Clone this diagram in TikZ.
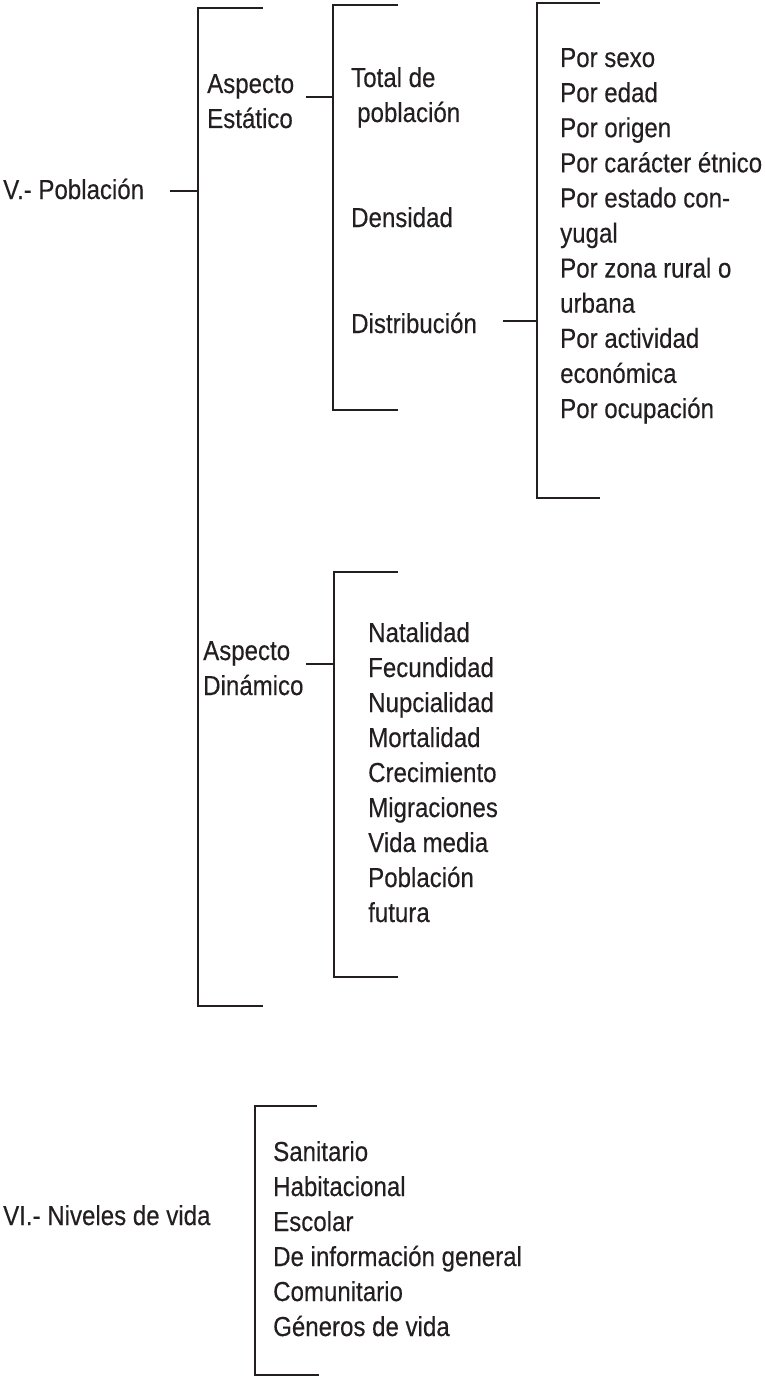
\documentclass[tikz,border=0pt]{standalone}
\usepackage{fontspec}
\setmainfont{Liberation Sans}[FakeStretch=0.875,FakeBold=0.3]
\definecolor{ink}{HTML}{231F20}
\begin{document}
\begin{tikzpicture}[x=1pt,y=-1pt,
  txt/.style={anchor=base west,inner sep=0pt,text=ink,font=\fontsize{27.5}{35}\selectfont},
  brk/.style={draw=ink,line width=2.4pt,line cap=rect},
  conn/.style={draw=ink,line width=2.4pt}]
\useasboundingbox (0,0) rectangle (764,1378);
% --- V. Poblacion
\node[txt] (pob) at (3,199) {V.- Población};
\coordinate (b1t) at (198,8);
\coordinate (b1b) at (198,1006);
\coordinate (b1m) at (198,191);
\draw[brk] (262,8) -- (b1t) -- (b1b) -- (262,1006);
\coordinate (pobE) at (170,191);
\draw[conn] (pobE) -- (b1m);
% --- Aspecto Estatico
\node[txt] (ae1) at (207,93) {Aspecto};
\node[txt] (ae2) at (207,128) {Estático};
\coordinate (aeE) at (306,97);
\coordinate (b2m) at (333,97);
\draw[brk] (397,5) -- (333,5) -- (333,410) -- (397,410);
\draw[conn] (aeE) -- (b2m);
\node[txt] (tot1) at (351,87) {Total de};
\node[txt] (tot2) at (357,122) {población};
\node[txt] (den) at (351,227) {Densidad};
\node[txt] (dis) at (351,333) {Distribución};
\coordinate (disE) at (503,321);
\coordinate (b3m) at (537,321);
\draw[conn] (disE) -- (b3m);
\draw[brk] (599,3) -- (537,3) -- (537,498) -- (599,498);
\foreach \t [count=\i] in {Por sexo,Por edad,Por origen,Por carácter étnico,Por estado con-,yugal,Por zona rural o,urbana,Por actividad,económica,Por ocupación}
  \node[txt] (d\i) at (560,{67+(\i-1)*35.1}) {\t};
% --- Aspecto Dinamico
\node[txt] (ad1) at (203,660) {Aspecto};
\node[txt] (ad2) at (203,695) {Dinámico};
\coordinate (adE) at (306,664);
\coordinate (b4m) at (334,664);
\draw[conn] (adE) -- (b4m);
\draw[brk] (397,572) -- (334,572) -- (334,977) -- (397,977);
\foreach \t [count=\i] in {Natalidad,Fecundidad,Nupcialidad,Mortalidad,Crecimiento,Migraciones,Vida media,Población,futura}
  \node[txt] (n\i) at (368,{642+(\i-1)*35}) {\t};
% --- VI. Niveles de vida
\node[txt] (niv) at (3,1225) {VI.- Niveles de vida};
\draw[brk] (316,1106) -- (255,1106) -- (255,1375) -- (318,1375);
\foreach \t [count=\i] in {Sanitario,Habitacional,Escolar,De información general,Comunitario,Géneros de vida}
  \node[txt] (v\i) at (273,{1161+(\i-1)*35}) {\t};
\end{tikzpicture}
\end{document}
